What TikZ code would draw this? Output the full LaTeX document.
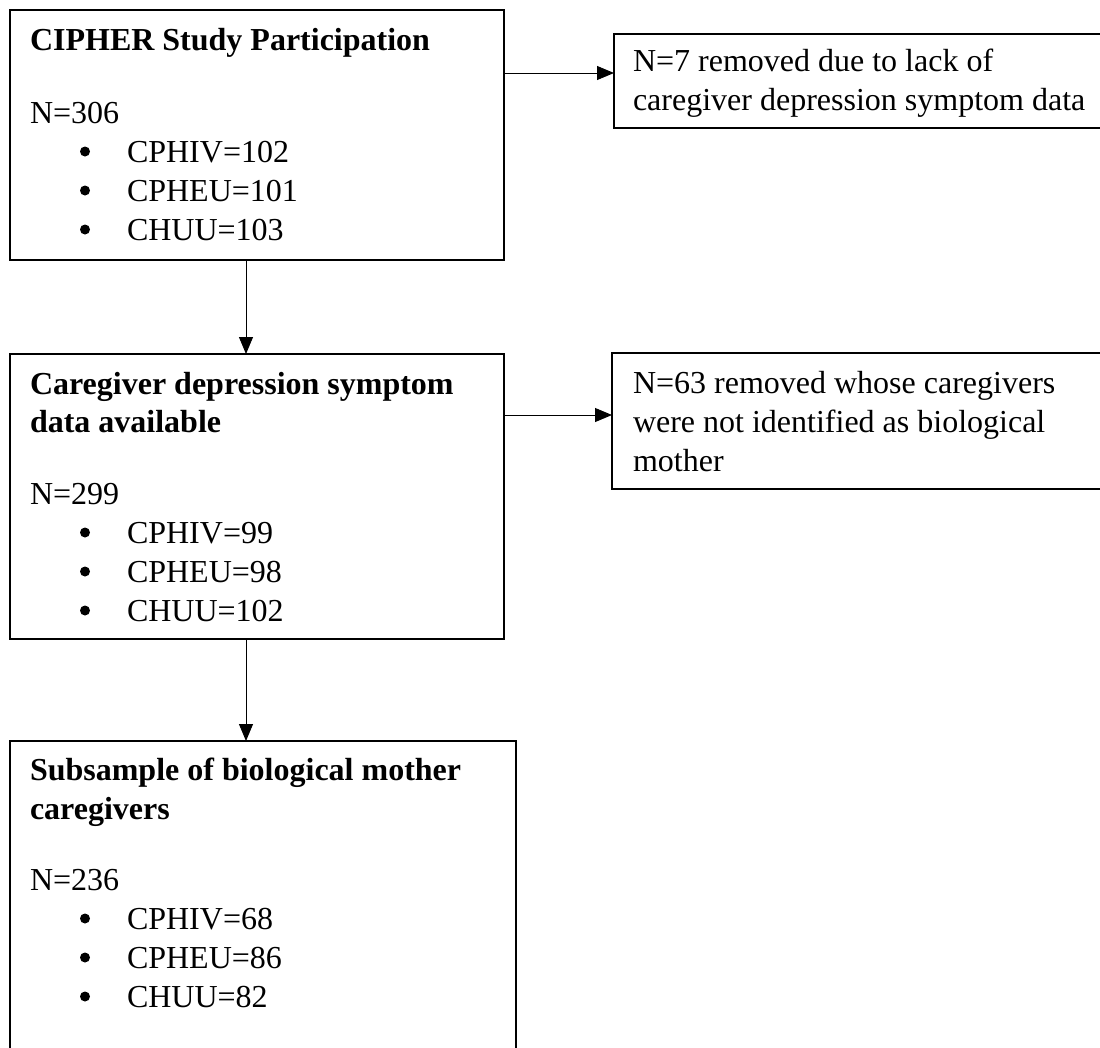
\documentclass[tikz,border=0pt]{standalone}
\usepackage{fontspec}
\setmainfont{Liberation Serif}
\usetikzlibrary{arrows.meta}
\tikzset{
  box/.style={draw=black, line width=1.2pt, anchor=north west, inner sep=0pt, outer sep=0pt},
  txt/.style={anchor=base west, inner sep=0pt, outer sep=0pt, font=\fontsize{32}{39}\selectfont},
  bul/.style={circle, fill=black, inner sep=0pt, outer sep=0pt, minimum size=10pt},
  arr/.style={draw=black, line width=1pt, -{Triangle[length=17pt,width=14pt]}}
}
\begin{document}
\begin{tikzpicture}[x=1pt,y=-1pt]
\useasboundingbox (0,0) rectangle (1100,1047);
\clip (0,0) rectangle (1100,1047);
\fill[white] (0,0) rectangle (1100,1047);
% boxes
\node[box, minimum width=494pt, minimum height=250pt] (b1) at (10,10) {};
\node[box, minimum width=490pt, minimum height=94pt] (b2) at (614,34) {};
\node[box, minimum width=494pt, minimum height=285pt] (b3) at (10,354) {};
\node[box, minimum width=492pt, minimum height=136pt] (b4) at (612,353) {};
\node[box, minimum width=506pt, minimum height=330pt] (b5) at (10,741) {};
% box 1 text
\node[txt] (t1a) at (30,50) {\textbf{CIPHER Study Participation}};
\node[txt] (t1n) at (30,123) {N=306};
\node[bul] (t1b1) at (85,151.5) {};
\node[bul] (t1b2) at (85,190.5) {};
\node[bul] (t1b3) at (85,229.5) {};
\node[txt] (t1i1) at (127,162) {CPHIV=102};
\node[txt] (t1i2) at (127,201) {CPHEU=101};
\node[txt] (t1i3) at (127,240) {CHUU=103};
% box 2 text
\node[txt] (t2a) at (633,71) {N=7 removed due to lack of};
\node[txt] (t2b) at (633,110) {caregiver depression symptom data};
% box 3 text
\node[txt] (t3a) at (30,394) {\textbf{Caregiver depression symptom}};
\node[txt] (t3b) at (30,432) {\textbf{data available}};
\node[txt] (t3n) at (30,504) {N=299};
\node[bul] (t3b1) at (85,532.5) {};
\node[bul] (t3b2) at (85,571.5) {};
\node[bul] (t3b3) at (85,610.5) {};
\node[txt] (t3i1) at (127,543) {CPHIV=99};
\node[txt] (t3i2) at (127,582) {CPHEU=98};
\node[txt] (t3i3) at (127,621) {CHUU=102};
% box 4 text
\node[txt] (t4a) at (633,393) {N=63 removed whose caregivers};
\node[txt] (t4b) at (633,432) {were not identified as biological};
\node[txt] (t4c) at (633,471) {mother};
% box 5 text
\node[txt] (t5a) at (30,780) {\textbf{Subsample of biological mother}};
\node[txt] (t5b) at (30,819) {\textbf{caregivers}};
\node[txt] (t5n) at (30,890) {N=236};
\node[bul] (t5b1) at (85,918.5) {};
\node[bul] (t5b2) at (85,957.5) {};
\node[bul] (t5b3) at (85,996.5) {};
\node[txt] (t5i1) at (127,929) {CPHIV=68};
\node[txt] (t5i2) at (127,968) {CPHEU=86};
\node[txt] (t5i3) at (127,1007) {CHUU=82};
% connectors
\draw[arr] ([xshift=236pt]b1.south west) -- ([xshift=236pt]b3.north west);
\draw[arr] ([xshift=236pt]b3.south west) -- ([xshift=236pt]b5.north west);
\coordinate (c1) at ([yshift=-63pt]b1.north east);
\draw[arr] (c1) -- (c1 -| b2.west);
\coordinate (c2) at ([yshift=-61pt]b3.north east);
\draw[arr] (c2) -- (c2 -| b4.west);
\end{tikzpicture}
\end{document}
